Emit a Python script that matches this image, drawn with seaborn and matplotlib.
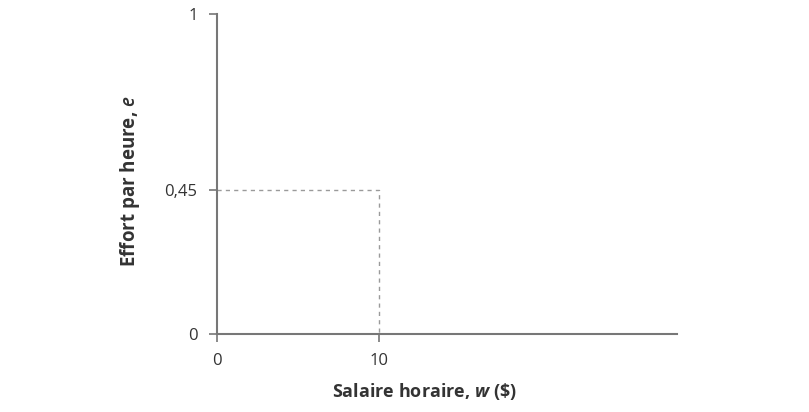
import matplotlib
matplotlib.use("Agg")
import matplotlib.pyplot as plt
import seaborn as sns
import pandas as pd

# ── DATA ───────────────────────────────────────────────
wage = [0, 10, 10]
effort = [0.45, 0.45, 0]
x_ticks = [0, 10]
y_ticks = [0, 0.45, 1]
y_tick_labels = ["0", "0,45", "1"]

sns.set_style("white")
plt.rcParams["font.family"] = ["Open Sans", "DejaVu Sans"]
plt.rcParams["mathtext.fontset"] = "custom"
plt.rcParams["mathtext.bf"] = "Open Sans:bold:italic"
plt.rcParams["mathtext.it"] = "Open Sans:semibold:italic"
plt.rcParams["mathtext.rm"] = "Open Sans"

fig = plt.figure(figsize=(8.09, 4.12), dpi=100)
ax = fig.add_axes([0.2682, 0.1893, 0.5686, 0.7767])

# dashed guide lines
df = pd.DataFrame({"w": wage, "e": effort})
sns.lineplot(data=df, x="w", y="e", sort=False, estimator=None, ax=ax,
             color="#9a9a9a", linestyle=(0, (3, 3)), linewidth=1.0)

ax.set_xlim(0, 28.4)
ax.set_ylim(0, 1)
ax.set_xticks(x_ticks)
ax.set_xticklabels([str(t) for t in x_ticks])
ax.set_yticks(y_ticks)
ax.set_yticklabels(y_tick_labels)

for side in ["top", "right"]:
    ax.spines[side].set_visible(False)
for side in ["left", "bottom"]:
    ax.spines[side].set_color("#777777")
    ax.spines[side].set_linewidth(1.5)

ax.tick_params(axis="both", which="major", bottom=True, left=True,
               direction="out", length=6, width=1.2, color="#777777",
               labelsize=12, labelcolor="#333333", pad=8)

ax.set_xlabel("Salaire horaire, $\\mathbf{w}$ (\\$)", fontsize=13,
              fontweight="bold", color="#333333", labelpad=8)
ax.set_ylabel("Effort par heure, $\\it{e}$", fontsize=13.5,
              fontweight="bold", color="#333333", labelpad=16)
# labels sit a bit off-centre in the original
ax.xaxis.label.set_x(0.452)
ax.yaxis.label.set_y(0.478)

plt.savefig("out.png", dpi=100)
